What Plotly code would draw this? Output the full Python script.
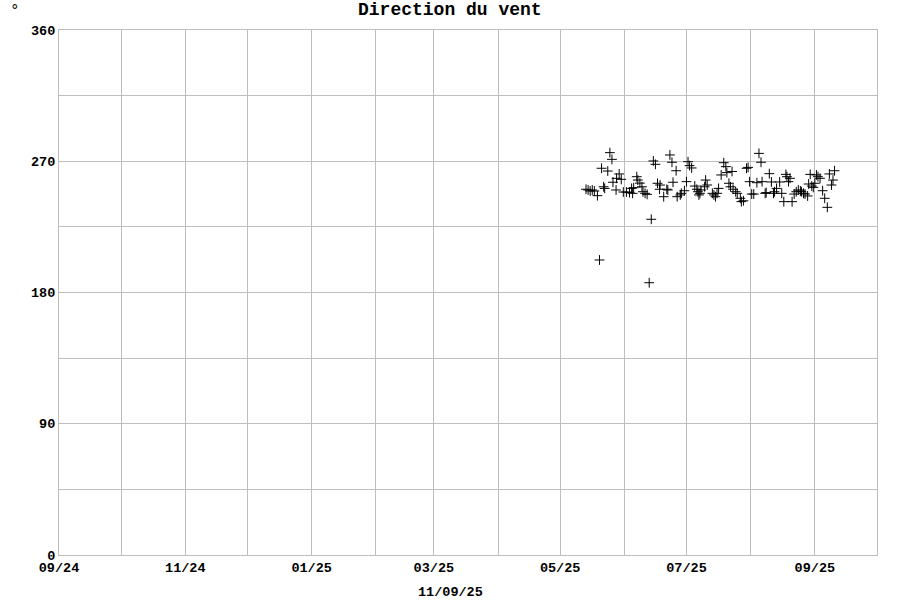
import plotly.graph_objects as go

# --- data (timestamp, wind direction in degrees) ---
dates = [
    "2025-05-13 12:00", "2025-05-14 12:00", "2025-05-15 12:00", "2025-05-16 12:00", "2025-05-17 12:00",
    "2025-05-19 00:00", "2025-05-20 00:00", "2025-05-21 00:00", "2025-05-22 00:00", "2025-05-22 12:00",
    "2025-05-24 00:00", "2025-05-25 00:00", "2025-05-26 00:00", "2025-05-26 12:00", "2025-05-28 00:00",
    "2025-05-28 06:00", "2025-05-29 12:00", "2025-05-30 12:00", "2025-05-31 12:00",
    "2025-06-02 00:00", "2025-06-03 12:00", "2025-06-04 12:00", "2025-06-05 00:00", "2025-06-05 12:00",
    "2025-06-07 00:00", "2025-06-07 12:00", "2025-06-08 12:00", "2025-06-09 12:00", "2025-06-10 00:00",
    "2025-06-11 00:00", "2025-06-12 00:00", "2025-06-13 00:00", "2025-06-14 00:00", "2025-06-15 00:00",
    "2025-06-16 00:00", "2025-06-17 00:00", "2025-06-18 00:00", "2025-06-18 06:00", "2025-06-20 00:00",
    "2025-06-21 12:00", "2025-06-22 00:00", "2025-06-23 00:00", "2025-06-24 00:00", "2025-06-24 12:00",
    "2025-06-26 00:00", "2025-06-26 12:00", "2025-06-28 00:00", "2025-06-28 12:00", "2025-06-30 00:00",
    "2025-07-01 00:00", "2025-07-01 18:00", "2025-07-02 12:00", "2025-07-03 12:00", "2025-07-05 00:00",
    "2025-07-06 00:00", "2025-07-06 12:00", "2025-07-07 00:00", "2025-07-07 12:00", "2025-07-08 00:00",
    "2025-07-09 18:00", "2025-07-10 06:00", "2025-07-11 00:00", "2025-07-13 12:00", "2025-07-14 06:00",
    "2025-07-15 00:00", "2025-07-15 18:00", "2025-07-16 12:00", "2025-07-17 18:00", "2025-07-19 00:00",
    "2025-07-20 00:00", "2025-07-20 12:00", "2025-07-21 12:00", "2025-07-22 06:00", "2025-07-23 00:00",
    "2025-07-23 12:00", "2025-07-24 18:00", "2025-07-25 12:00", "2025-07-27 00:00", "2025-07-27 12:00",
    "2025-07-28 12:00", "2025-07-30 00:00", "2025-07-30 18:00", "2025-07-31 12:00",
    "2025-08-01 12:00", "2025-08-02 12:00", "2025-08-04 00:00", "2025-08-05 00:00", "2025-08-06 00:00",
    "2025-08-06 12:00", "2025-08-08 00:00", "2025-08-08 12:00", "2025-08-10 00:00", "2025-08-11 00:00",
    "2025-08-12 00:00", "2025-08-12 12:00", "2025-08-13 12:00", "2025-08-15 00:00", "2025-08-16 00:00",
    "2025-08-17 00:00", "2025-08-18 00:00", "2025-08-18 12:00", "2025-08-19 06:00", "2025-08-20 00:00",
    "2025-08-21 00:00", "2025-08-22 00:00", "2025-08-23 00:00", "2025-08-24 00:00", "2025-08-25 00:00",
    "2025-08-25 12:00", "2025-08-26 12:00", "2025-08-27 06:00", "2025-08-28 12:00", "2025-08-29 00:00",
    "2025-08-29 18:00", "2025-08-30 12:00", "2025-08-31 06:00",
    "2025-09-01 00:00", "2025-09-01 18:00", "2025-09-02 12:00", "2025-09-03 12:00", "2025-09-04 18:00",
    "2025-09-05 18:00", "2025-09-07 00:00", "2025-09-08 00:00", "2025-09-09 00:00", "2025-09-09 18:00",
    "2025-09-10 12:00",
]
direction = [
    250.8, 250.3, 249.6, 250.3, 249.6,
    246.4, 202.3, 265.2, 252.5, 251.4,
    263.3, 275.9, 271.3, 255.6, 250.3,
    258.3, 261.3, 257.6, 248.9,
    248.9, 248.5, 251.4, 248.0, 251.9,
    259.4, 257.1, 255.0, 252.5, 249.1,
    248.0, 247.3, 186.7, 230.2, 270.2,
    267.9, 254.9, 250.8, 253.7, 245.7,
    250.8, 250.3, 274.3, 269.3, 255.6,
    263.5, 245.7, 246.9, 248.0, 249.8,
    256.0, 269.7, 267.0, 265.4, 253.0,
    250.8, 249.1, 246.9, 248.0, 250.3,
    252.5, 257.1, 253.7, 248.0, 246.9,
    245.7, 248.0, 251.4, 260.6, 269.0,
    266.3, 262.2, 254.9, 252.5, 263.0,
    250.8, 249.1, 248.0, 244.6, 242.3,
    242.9, 265.2, 265.8, 256.0,
    247.5, 247.5, 255.3, 275.4, 269.3,
    256.0, 248.0, 248.5, 261.5, 255.8,
    248.0, 249.1, 251.4, 255.8, 248.0,
    242.3, 261.0, 259.4, 256.0, 258.3,
    242.3, 247.5, 249.1, 250.3, 249.6,
    249.1, 248.0, 247.5, 246.2, 254.4,
    261.0, 253.0, 252.1,
    254.9, 260.6, 259.4, 258.3, 249.8,
    244.6, 238.4, 261.3, 253.7, 257.1,
    263.5,
]

month_ticks = [
    "2024-09-01", "2024-10-01", "2024-11-01", "2024-12-01", "2025-01-01", "2025-02-01",
    "2025-03-01", "2025-04-01", "2025-05-01", "2025-06-01", "2025-07-01", "2025-08-01",
    "2025-09-01", "2025-10-01",
]
month_labels = ["09/24", "", "11/24", "", "01/25", "", "03/25", "", "05/25", "", "07/25", "", "09/25", ""]
y_ticks = [0, 45, 90, 135, 180, 225, 270, 315, 360]
y_labels = ["0", "", "90", "", "180", "", "270", "", "360"]

title_text = "Direction du vent"
unit_text = "°"
date_text = "11/09/25"

FONT = "Liberation Mono, Courier New, monospace"
GRID = "#bdbdbd"

fig = go.Figure()
fig.add_trace(go.Scatter(
    x=dates, y=direction, mode="markers",
    marker=dict(symbol="cross-thin", size=7, line=dict(color="#000000", width=1), color="#000000"),
    showlegend=False, hoverinfo="x+y",
))

fig.update_layout(
    width=900, height=600,
    margin=dict(l=59, r=23, t=30, b=45),
    paper_bgcolor="white", plot_bgcolor="white",
    font=dict(family=FONT, size=13, color="#000000"),
    showlegend=False,
    xaxis=dict(
        type="date", range=["2024-09-01", "2025-10-01"],
        tickmode="array", tickvals=month_ticks, ticktext=month_labels,
        showgrid=True, gridcolor=GRID, gridwidth=1,
        showline=True, linecolor=GRID, linewidth=1, mirror=True,
        ticks="", zeroline=False,
        tickfont=dict(family=FONT, size=13.5, color="#000000", weight="bold"),
    ),
    yaxis=dict(
        range=[0, 360], tickmode="array", tickvals=y_ticks, ticktext=y_labels,
        showgrid=True, gridcolor=GRID, gridwidth=1,
        showline=True, linecolor=GRID, linewidth=1, mirror=True,
        ticks="", zeroline=False,
        tickfont=dict(family=FONT, size=13.5, color="#000000", weight="bold"),
    ),
    annotations=[
        dict(text=title_text, xref="paper", yref="paper", x=0.4775, y=1.038,
             xanchor="center", yanchor="middle", showarrow=False,
             font=dict(family=FONT, size=18, color="#000000", weight="bold")),
        dict(text=unit_text, xref="paper", yref="paper", x=-0.054, y=1.036,
             xanchor="center", yanchor="middle", showarrow=False,
             font=dict(family=FONT, size=16, color="#000000")),
        dict(text=date_text, xref="paper", yref="paper", x=0.4781, y=-0.0705,
             xanchor="center", yanchor="middle", showarrow=False,
             font=dict(family=FONT, size=13.5, color="#000000", weight="bold")),
    ],
)

fig.write_html("out.html", config={"displayModeBar": False},
               post_script="document.body.style.margin='0';")
